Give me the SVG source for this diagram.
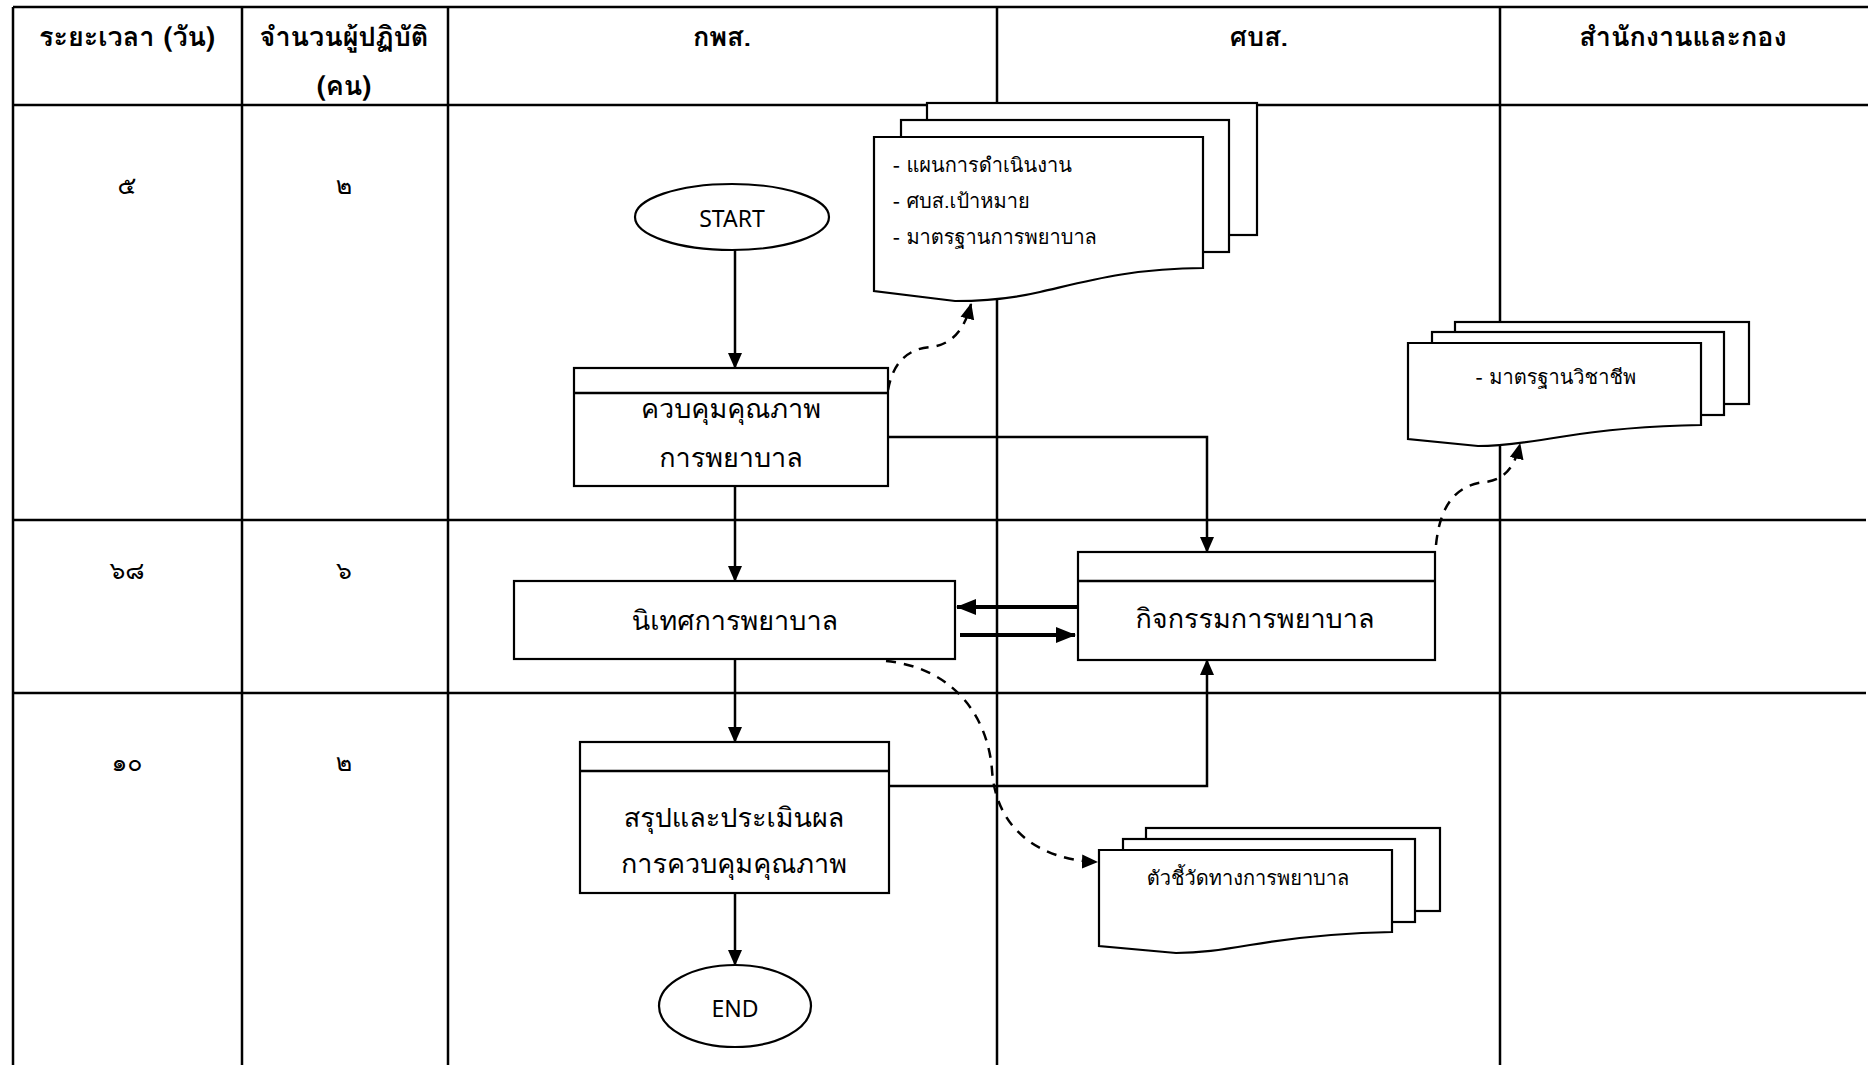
<svg xmlns="http://www.w3.org/2000/svg" width="1868" height="1065" viewBox="0 0 1868 1065">
<defs>
<marker id="ah" markerWidth="16" markerHeight="16" refX="15" refY="8" orient="auto" markerUnits="userSpaceOnUse"><path d="M0,1 L16,8 L0,15 Z" fill="#000"/></marker>
<marker id="ahb" markerWidth="20" markerHeight="16" refX="19" refY="8" orient="auto" markerUnits="userSpaceOnUse"><path d="M0,0 L20,8 L0,16 Z" fill="#000"/></marker>
</defs>
<style>
.grid{stroke:#000;stroke-width:2.5;fill:none}
.box{fill:#fff;stroke:#000;stroke-width:2.2}
.hd{font-family:Tahoma,Garuda,Loma,"Noto Sans Thai Looped","Noto Sans Thai","Noto Sans","DejaVu Sans",sans-serif;font-weight:bold;font-size:27px;text-anchor:middle;dominant-baseline:central}
.num{font-family:Tahoma,Garuda,Loma,"Noto Sans Thai Looped","Noto Sans Thai","Noto Sans","DejaVu Sans",sans-serif;font-size:25px;text-anchor:middle;dominant-baseline:central}
.t{font-family:Tahoma,Garuda,Loma,"Noto Sans Thai Looped","Noto Sans Thai","Noto Sans","DejaVu Sans",sans-serif;font-size:27px;text-anchor:middle;dominant-baseline:central}
.tt{font-family:"Noto Sans","DejaVu Sans",sans-serif;font-size:23px;text-anchor:middle;dominant-baseline:central}
.d{font-family:Tahoma,Garuda,Loma,"Noto Sans Thai Looped","Noto Sans Thai","Noto Sans","DejaVu Sans",sans-serif;font-size:20px;dominant-baseline:central}
.conn{stroke:#000;stroke-width:2.5;fill:none}
.thick{stroke-width:4}
.dash{stroke-dasharray:10,8}
</style>
<g id="table">
<line class="grid" x1="13" y1="7" x2="1868" y2="7"/>
<line class="grid" x1="13" y1="105" x2="1868" y2="105"/>
<line class="grid" x1="13" y1="520" x2="1866" y2="520"/>
<line class="grid" x1="13" y1="693" x2="1866" y2="693"/>
<line class="grid" x1="13" y1="7" x2="13" y2="1065"/>
<line class="grid" x1="242" y1="7" x2="242" y2="1065"/>
<line class="grid" x1="448" y1="7" x2="448" y2="1065"/>
<line class="grid" x1="997" y1="7" x2="997" y2="1065"/>
<line class="grid" x1="1500" y1="7" x2="1500" y2="1065"/>
<text class="hd" x="127" y="36">ระยะเวลา (วัน)</text>
<text class="hd" x="344" y="36">จำนวนผู้ปฏิบัติ</text>
<text class="hd" x="344" y="85">(คน)</text>
<text class="hd" x="722" y="36">กพส.</text>
<text class="hd" x="1259" y="36">ศบส.</text>
<text class="hd" x="1683" y="36">สำนักงานและกอง</text>
<text class="num" x="127" y="185">๕</text>
<text class="num" x="344" y="185">๒</text>
<text class="num" x="127" y="570">๖๘</text>
<text class="num" x="344" y="570">๖</text>
<text class="num" x="127" y="762">๑๐</text>
<text class="num" x="344" y="762">๒</text>
</g>
<g id="connectors">
<line class="conn" x1="735" y1="249" x2="735" y2="368" marker-end="url(#ah)"/>
<line class="conn" x1="735" y1="486" x2="735" y2="581" marker-end="url(#ah)"/>
<line class="conn" x1="735" y1="659" x2="735" y2="742" marker-end="url(#ah)"/>
<line class="conn" x1="735" y1="893" x2="735" y2="965" marker-end="url(#ah)"/>
<polyline class="conn" points="888,437 1207,437 1207,552" marker-end="url(#ah)"/>
<polyline class="conn" points="888,786 1207,786 1207,660" marker-end="url(#ah)"/>
<line class="conn thick" x1="1080" y1="607" x2="957" y2="607" marker-end="url(#ahb)"/>
<line class="conn thick" x1="960" y1="635" x2="1075" y2="635" marker-end="url(#ahb)"/>
<path class="conn dash" d="M888,390 C893,362 908,349 930,347 C953,345 965,328 971,304" marker-end="url(#ah)"/>
<path class="conn dash" d="M1436,545 C1440,505 1456,485 1485,482 C1505,480 1515,466 1520,444" marker-end="url(#ah)"/>
<path class="conn dash" d="M886,661 C955,668 988,718 992,770 C996,830 1040,860 1097,862" marker-end="url(#ah)"/>
</g>
<g id="start">
<ellipse class="box" cx="732" cy="217" rx="97" ry="33"/>
<text class="tt" x="732" y="218">START</text>
</g>
<g id="doc-plan">
<rect class="box" x="927" y="103" width="330" height="132"/>
<rect class="box" x="901" y="120" width="328" height="132"/>
<path class="box" d="M874,137 H1203 V268 C1130,268 1080,283 1040,292 C1010,299 985,301 955,301 L874,291 Z"/>
<text class="d" x="893" y="165">- แผนการดำเนินงาน</text>
<text class="d" x="893" y="201">- ศบส.เป้าหมาย</text>
<text class="d" x="893" y="237">- มาตรฐานการพยาบาล</text>
</g>
<g id="control">
<rect class="box" x="574" y="368" width="314" height="118"/>
<line class="conn" x1="574" y1="393" x2="888" y2="393"/>
<text class="t" x="731" y="408">ควบคุมคุณภาพ</text>
<text class="t" x="731" y="457">การพยาบาล</text>
</g>
<g id="doc-standard">
<rect class="box" x="1455" y="322" width="294" height="82"/>
<rect class="box" x="1432" y="332" width="292" height="83"/>
<path class="box" d="M1408,343 H1701 V425 C1640,426 1590,432 1560,437 C1530,442 1500,446 1478,446 L1408,439 Z"/>
<text class="d" x="1556" y="377" text-anchor="middle">- มาตรฐานวิชาชีพ</text>
</g>
<g id="supervise">
<rect class="box" x="514" y="581" width="441" height="78"/>
<text class="t" x="735" y="620">นิเทศการพยาบาล</text>
</g>
<g id="activity">
<rect class="box" x="1078" y="552" width="357" height="108"/>
<line class="conn" x1="1078" y1="581" x2="1435" y2="581"/>
<text class="t" x="1255" y="618">กิจกรรมการพยาบาล</text>
</g>
<g id="summary">
<rect class="box" x="580" y="742" width="309" height="151"/>
<line class="conn" x1="580" y1="771" x2="889" y2="771"/>
<text class="t" x="734" y="817">สรุปและประเมินผล</text>
<text class="t" x="734" y="863">การควบคุมคุณภาพ</text>
</g>
<g id="doc-indicator">
<rect class="box" x="1146" y="828" width="294" height="83"/>
<rect class="box" x="1123" y="839" width="292" height="83"/>
<path class="box" d="M1099,850 H1392 V932 C1330,933 1280,940 1250,945 C1220,950 1200,953 1176,953 L1099,946 Z"/>
<text class="d" x="1248" y="878" text-anchor="middle">ตัวชี้วัดทางการพยาบาล</text>
</g>
<g id="end">
<ellipse class="box" cx="735" cy="1006" rx="76" ry="41"/>
<text class="tt" x="735" y="1008">END</text>
</g>
</svg>
